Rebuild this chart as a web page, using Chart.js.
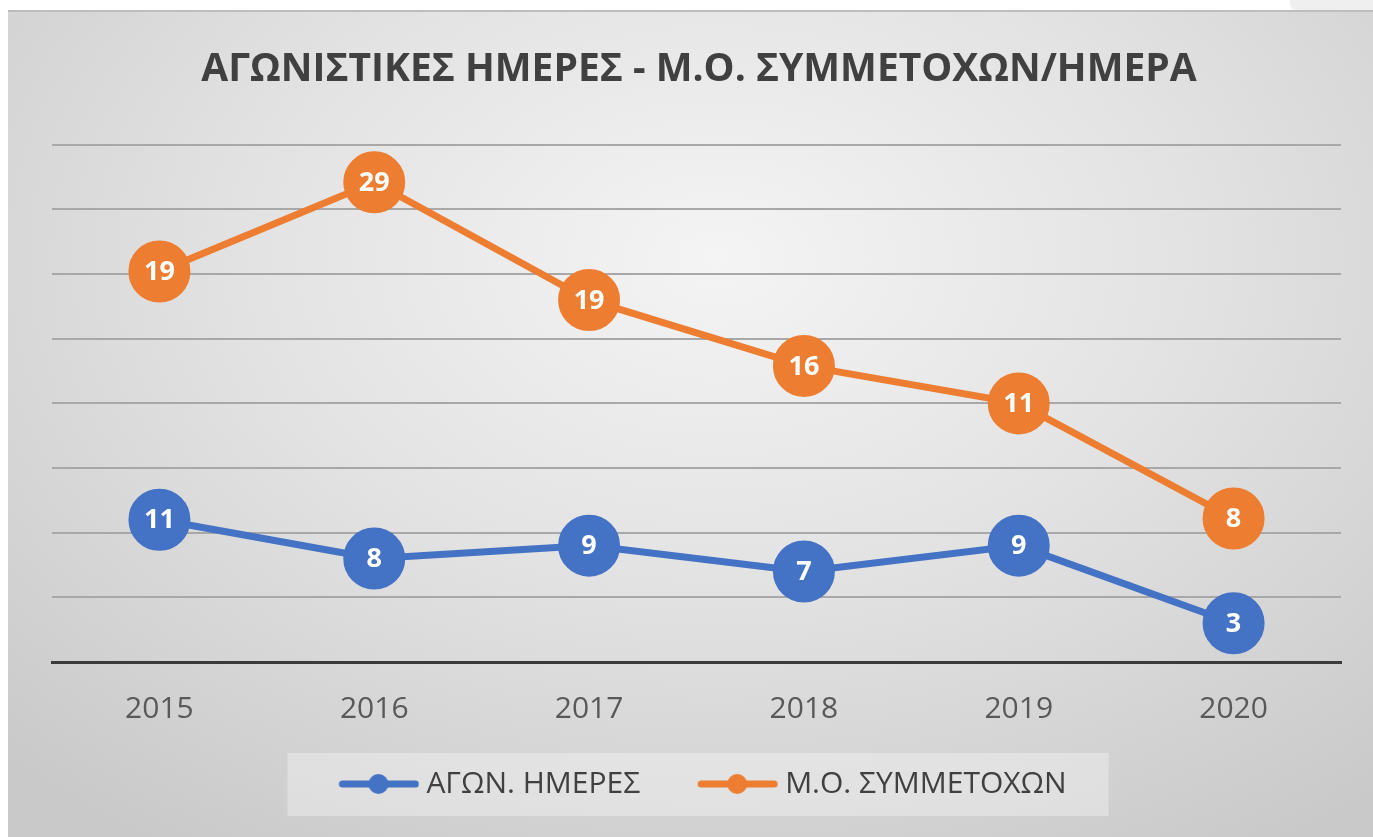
<!DOCTYPE html>
<html>
<head>
<meta charset="utf-8">
<script src="https://cdn.jsdelivr.net/npm/chart.js@4"></script>
<style>
  html, body { margin: 0; padding: 0; background: #ffffff; }
  body { width: 1373px; height: 837px; position: relative; overflow: hidden; }
  #tab { position: absolute; left: 1290px; top: 0; width: 83px; height: 10px; background: #efefef; border-bottom-left-radius: 6px; }
  #box {
    position: absolute; left: 8px; top: 10px; width: 1365px; height: 827px;
    border-top: 2px solid #bdbdbd; box-sizing: border-box;
    background: radial-gradient(ellipse 75% 85% at 52% 30%, #f4f4f4 0%, #e3e3e3 45%, #c9c9c9 100%);
  }
</style>
</head>
<body>
<div id="tab"></div>
<div id="box"><canvas id="myChart" width="1365" height="825"></canvas></div>
<script>
var years = ['2015', '2016', '2017', '2018', '2019', '2020'];
var days = [11, 8, 9, 7, 9, 3];                     // ΑΓΩΝ. ΗΜΕΡΕΣ
var avgLabels = [19, 29, 19, 16, 11, 8];            // Μ.Ο. ΣΥΜΜΕΤΟΧΩΝ, as printed on the markers
var avgLevels = [30.2, 37.1, 28.0, 22.9, 20.0, 11.1]; // their height
var yMax = 40, yStep = 5;

var BLUE = '#4472C4', ORANGE = '#ED7D31';
var FONT = '"Open Sans", "Noto Sans", sans-serif';

// line-with-dot sample for the legend (a bit wider than its box so it sits close to the text)
function legendSample(color) {
  var c = document.createElement('canvas');
  c.width = 96; c.height = 24;
  var g = c.getContext('2d');
  g.strokeStyle = color; g.lineWidth = 7; g.lineCap = 'round';
  g.beginPath(); g.moveTo(19, 12); g.lineTo(92, 12); g.stroke();
  g.fillStyle = color;
  g.beginPath(); g.arc(55, 12, 10, 0, Math.PI * 2); g.fill();
  return c;
}

var markerText = {
  id: 'markerText',
  afterDatasetsDraw: function (chart) {
    var ctx = chart.ctx;
    ctx.save();
    ctx.font = 'bold 27px ' + FONT;
    ctx.fillStyle = '#ffffff';
    ctx.textAlign = 'center';
    ctx.textBaseline = 'middle';
    chart.data.datasets.forEach(function (ds, i) {
      chart.getDatasetMeta(i).data.forEach(function (pt, j) {
        ctx.fillText(String(ds.shown[j]), pt.x, pt.y + 1);
      });
    });
    ctx.restore();
  }
};

var legendBack = {
  id: 'legendBack',
  beforeDraw: function (chart) {
    var hb = chart.legend.legendHitBoxes;
    if (!hb || !hb.length) return;
    var l = hb[0].left, r = hb[hb.length - 1].left + hb[hb.length - 1].width;
    var cy = hb[0].top + hb[0].height / 2;
    var ctx = chart.ctx;
    ctx.save();
    ctx.fillStyle = 'rgba(255,255,255,0.32)';
    ctx.fillRect(l - 44, cy - 31, r - l + 86, 63);
    ctx.restore();
  }
};

var ctx = document.getElementById('myChart').getContext('2d');
var myChart = new Chart(ctx, {
  type: 'line',
  data: {
    labels: years,
    datasets: [{
      label: 'ΑΓΩΝ. ΗΜΕΡΕΣ',
      data: days,
      shown: days,
      borderColor: BLUE,
      backgroundColor: BLUE,
      borderWidth: 7,
      pointRadius: 30,
      pointBorderWidth: 2,
      pointBorderColor: BLUE,
      pointBackgroundColor: BLUE
    }, {
      label: 'Μ.Ο. ΣΥΜΜΕΤΟΧΩΝ',
      data: avgLevels,
      shown: avgLabels,
      borderColor: ORANGE,
      backgroundColor: ORANGE,
      borderWidth: 7,
      pointRadius: 30,
      pointBorderWidth: 2,
      pointBorderColor: ORANGE,
      pointBackgroundColor: ORANGE
    }]
  },
  options: {
    responsive: false,
    animation: false,
    events: [],
    layout: { padding: { left: 44, right: 27, top: 0, bottom: 28 } },
    plugins: {
      title: {
        display: true,
        text: 'ΑΓΩΝΙΣΤΙΚΕΣ ΗΜΕΡΕΣ - Μ.Ο. ΣΥΜΜΕΤΟΧΩΝ/ΗΜΕΡΑ',
        color: '#404040',
        font: { family: FONT, size: 39, weight: 'bold', lineHeight: 1.2 },
        padding: { top: 34, bottom: 52 }
      },
      legend: {
        position: 'bottom',
        labels: {
          usePointStyle: true,
          pointStyleWidth: 80,
          boxHeight: 22,
          padding: 50,
          color: '#404040',
          font: { family: FONT, size: 30 },
          generateLabels: function (chart) {
            return chart.data.datasets.map(function (ds, i) {
              return {
                text: ds.label,
                pointStyle: legendSample(ds.borderColor),
                fillStyle: ds.borderColor,
                strokeStyle: ds.borderColor,
                lineWidth: 0,
                fontColor: '#404040',
                datasetIndex: i
              };
            });
          }
        }
      },
      tooltip: { enabled: false }
    },
    scales: {
      x: {
        offset: true,
        afterFit: function (s) { s.height = 57; },
        grid: { display: false, drawTicks: false },
        border: { display: true, color: '#3a3a3a', width: 3 },
        ticks: { color: '#595959', font: { family: FONT, size: 30 }, padding: 29 }
      },
      y: {
        min: 0,
        max: yMax,
        afterFit: function (s) { s.width = 0; },
        grid: { color: '#a8a8a8', lineWidth: 2, drawTicks: false },
        border: { display: false },
        ticks: { display: false, stepSize: yStep }
      }
    }
  },
  plugins: [legendBack, markerText]
});
</script>
</body>
</html>
